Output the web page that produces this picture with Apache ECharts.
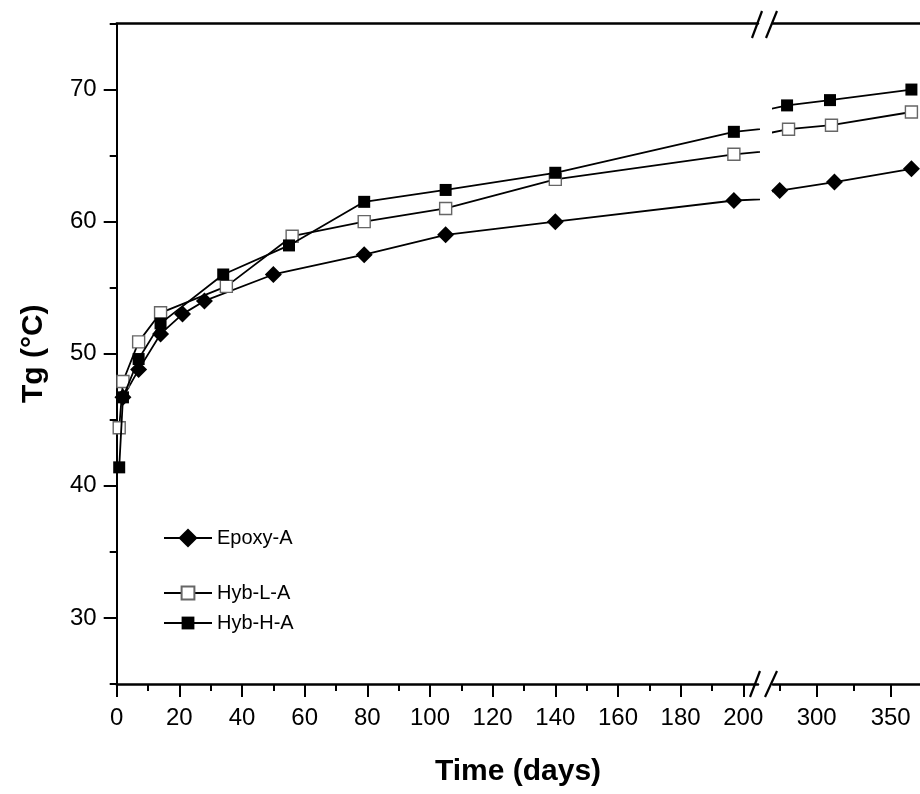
<!DOCTYPE html>
<html>
<head>
<meta charset="utf-8">
<script src="https://cdn.jsdelivr.net/npm/echarts@6/dist/echarts.min.js"></script>
<style>
html,body{margin:0;padding:0;background:#fff;}
#chart{width:920px;height:794px;}
</style>
</head>
<body>
<div id="chart"></div>
<script>
// ---- data ----
const epoxyDays = [2, 7, 14, 21, 28, 50, 79, 105, 140, 197, 275, 312, 364];
const epoxyTg   = [46.7, 48.8, 51.5, 53.0, 54.0, 56.0, 57.5, 59.0, 60.0, 61.6, 62.35, 63.0, 64.0];
const hybLDays  = [0.8, 2, 7, 14, 35, 56, 79, 105, 140, 197, 281, 310, 364];
const hybLTg    = [44.4, 47.9, 50.9, 53.1, 55.1, 58.9, 60.0, 61.0, 63.2, 65.1, 67.0, 67.3, 68.3];
const hybHDays  = [0.8, 2, 7, 14, 34, 55, 79, 105, 140, 197, 280, 309, 364];
const hybHTg    = [41.4, 46.7, 49.6, 52.3, 56.0, 58.2, 61.5, 62.4, 63.7, 66.8, 68.8, 69.2, 70.0];
const seriesNames = ['Epoxy-A', 'Hyb-L-A', 'Hyb-H-A'];

const leftMajorTicks  = [0, 20, 40, 60, 80, 100, 120, 140, 160, 180, 200];
const leftMinorTicks  = [10, 30, 50, 70, 90, 110, 130, 150, 170, 190];
const rightMajorTicks = [300, 350];
const rightMinorTicks = [275, 325];
const yMajorTicks = [30, 40, 50, 60, 70];
const yMinorTicks = [25, 35, 45, 55, 65, 75];

const leftRange  = [0, 204.7];
const rightRange = [270.5, 369.8];
const yRange = [25, 75];

const pairs = (xs, ys) => xs.map((x, i) => [x, ys[i]]);

const FONT = '"Liberation Sans", Arial, sans-serif';
const AX = '#000';

function mainX(grid, range, major) {
  return {
    type: 'value', gridIndex: grid, position: 'bottom', min: range[0], max: range[1],
    axisLine: {show: true, onZero: false, lineStyle: {color: AX, width: 2.5}},
    axisTick: {show: true, inside: false, length: 13, customValues: major, lineStyle: {color: AX, width: 2}},
    axisLabel: {show: true, customValues: major, margin: 22, fontSize: 24, color: '#000', fontFamily: FONT},
    splitLine: {show: false}
  };
}
function minorX(grid, range, minor) {
  return {
    type: 'value', gridIndex: grid, position: 'bottom', min: range[0], max: range[1],
    axisLine: {show: false, onZero: false},
    axisTick: {show: true, inside: false, length: 7, customValues: minor, lineStyle: {color: AX, width: 2}},
    axisLabel: {show: false}, splitLine: {show: false}
  };
}
function topX(grid, range) {
  return {
    type: 'value', gridIndex: grid, position: 'top', min: range[0], max: range[1],
    axisLine: {show: true, onZero: false, lineStyle: {color: AX, width: 2.5}},
    axisTick: {show: false}, axisLabel: {show: false}, splitLine: {show: false}
  };
}

const styles = {
  'Epoxy-A': {symbol: 'diamond', symbolSize: 17, itemStyle: {color: '#000'}},
  'Hyb-L-A': {symbol: 'rect', symbolSize: 12, itemStyle: {color: '#fff', borderColor: '#666', borderWidth: 1.4}},
  'Hyb-H-A': {symbol: 'rect', symbolSize: 12, itemStyle: {color: '#000'}}
};
const dataSets = {
  'Epoxy-A': pairs(epoxyDays, epoxyTg),
  'Hyb-L-A': pairs(hybLDays, hybLTg),
  'Hyb-H-A': pairs(hybHDays, hybHTg)
};

const series = [];
[[0, 0, 0], [1, 3, 2]].forEach(([g, xi, yi]) => {
  seriesNames.forEach((name, k) => {
    const st = styles[name];
    series.push({
      type: 'line', name: name, xAxisIndex: xi, yAxisIndex: yi,
      data: dataSets[name], clip: true, z: 2 + k,
      symbol: st.symbol, symbolSize: st.symbolSize, showSymbol: true,
      itemStyle: st.itemStyle,
      lineStyle: {color: '#000', width: 1.8},
      emphasis: {disabled: true}
    });
  });
});

const chart = echarts.init(document.getElementById('chart'), null, {renderer: 'canvas'});
chart.setOption({
  animation: false,
  backgroundColor: '#fff',
  grid: [
    {left: 116.7, top: 23.5, width: 641.3, height: 660.5},
    {left: 773, top: 23.5, right: 0, height: 660.5}
  ],
  xAxis: [
    mainX(0, leftRange, leftMajorTicks),
    minorX(0, leftRange, leftMinorTicks),
    topX(0, leftRange),
    mainX(1, rightRange, rightMajorTicks),
    minorX(1, rightRange, rightMinorTicks),
    topX(1, rightRange)
  ],
  yAxis: [
    {
      type: 'value', gridIndex: 0, position: 'left', min: yRange[0], max: yRange[1],
      axisLine: {show: true, onZero: false, lineStyle: {color: AX, width: 2}},
      axisTick: {show: true, inside: false, length: 13, customValues: yMajorTicks, lineStyle: {color: AX, width: 2}},
      axisLabel: {customValues: yMajorTicks, margin: 20, fontSize: 24, color: '#000', fontFamily: FONT},
      splitLine: {show: false},
      name: 'Tg (°C)', nameLocation: 'middle', nameGap: 68,
      nameTextStyle: {fontSize: 30, fontWeight: 'bold', color: '#000', fontFamily: FONT}
    },
    {
      type: 'value', gridIndex: 0, position: 'left', min: yRange[0], max: yRange[1],
      axisLine: {show: false, onZero: false},
      axisTick: {show: true, inside: false, length: 7, customValues: yMinorTicks, lineStyle: {color: AX, width: 2}},
      axisLabel: {show: false}, splitLine: {show: false}
    },
    {
      type: 'value', gridIndex: 1, position: 'left', min: yRange[0], max: yRange[1], show: false, splitLine: {show: false}
    }
  ],
  legend: [
    {
      data: ['Epoxy-A'], left: 163, top: 528, orient: 'vertical', padding: 0,
      itemWidth: 48, itemHeight: 24, selectedMode: false,
      textStyle: {fontSize: 20, color: '#000', fontFamily: FONT}
    },
    {
      data: ['Hyb-L-A', 'Hyb-H-A'], left: 163, top: 583, orient: 'vertical', padding: 0,
      itemWidth: 48, itemHeight: 16, itemGap: 10, selectedMode: false,
      textStyle: {fontSize: 20, color: '#000', fontFamily: FONT}
    }
  ],
  graphic: [
    {type: 'text', x: 518, y: 772, style: {text: 'Time (days)', font: 'bold 30px ' + FONT, fill: '#000', textAlign: 'center', textVerticalAlign: 'middle'}, z: 10},
    {type: 'line', shape: {x1: 752, y1: 38, x2: 762, y2: 11}, style: {stroke: '#000', lineWidth: 2.2}, z: 10},
    {type: 'line', shape: {x1: 766, y1: 38, x2: 777, y2: 11}, style: {stroke: '#000', lineWidth: 2.2}, z: 10},
    {type: 'line', shape: {x1: 750, y1: 697, x2: 760, y2: 671}, style: {stroke: '#000', lineWidth: 2.2}, z: 10},
    {type: 'line', shape: {x1: 765, y1: 697, x2: 777, y2: 671}, style: {stroke: '#000', lineWidth: 2.2}, z: 10}
  ],
  series: series
});
</script>
</body>
</html>
